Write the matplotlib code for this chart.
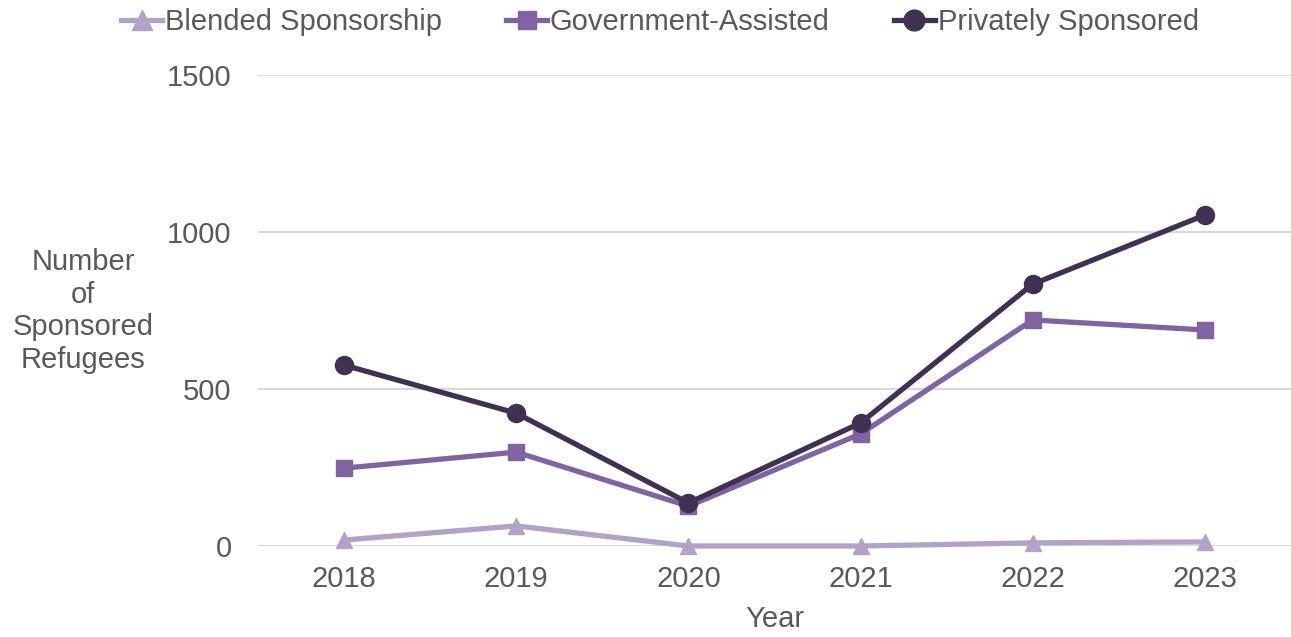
import matplotlib
matplotlib.use("Agg")
import matplotlib.pyplot as plt

plt.rcParams['font.family'] = ['Liberation Sans', 'DejaVu Sans']

years = ['2018', '2019', '2020', '2021', '2022', '2023']
blended = [19, 64, 0, 0, 10, 13]
government = [248, 299, 127, 357, 720, 688]
private = [576, 423, 137, 392, 834, 1054]

series_names = ['Blended Sponsorship', 'Government-Assisted', 'Privately Sponsored']
colors = ['#B3A2C8', '#8064A2', '#403152']
markers = ['^', 's', 'o']
msizes = [12, 11, 13]

text_col = '#595959'
fs = 21

fig = plt.figure(figsize=(12.91, 6.37), dpi=100)
ax = fig.add_axes([258 / 1291, 1 - 546 / 637, 1033 / 1291, (546 - 75) / 637])

x = list(range(len(years)))
for vals, name, c, m, ms in zip([blended, government, private], series_names, colors, markers, msizes):
    ax.plot(x, vals, color=c, lw=3.8, marker=m, markersize=ms, label=name,
            clip_on=False, zorder=3)

ax.set_xlim(-0.5, len(years) - 0.5)
ax.set_ylim(0, 1500)
ax.set_yticks([0, 500, 1000, 1500])
ax.set_xticks(x)
ax.set_xticklabels(years)
ax.grid(axis='y', color='#D9D9D9', lw=1.5)
ax.set_axisbelow(True)
for s in ax.spines.values():
    s.set_visible(False)
ax.tick_params(axis='both', length=0, labelsize=fs, labelcolor=text_col)
ax.tick_params(axis='y', pad=19)
ax.tick_params(axis='x', pad=14)

ax.set_xlabel('Year', fontsize=fs, color=text_col, labelpad=8)
fig.text(83 / 1291, 1 - 311 / 637, 'Number\nof\nSponsored\nRefugees', ha='center', va='center',
         fontsize=fs, color=text_col, linespacing=1.2)

leg = ax.legend(loc='center', bbox_to_anchor=(660 / 1291, 1 - 22 / 637),
                bbox_transform=fig.transFigure, ncol=3, frameon=False,
                fontsize=fs, handlelength=1.4, handletextpad=0.1, columnspacing=2.2,
                markerscale=1.15)
for t in leg.get_texts():
    t.set_color(text_col)

fig.savefig('out.png', dpi=100)
